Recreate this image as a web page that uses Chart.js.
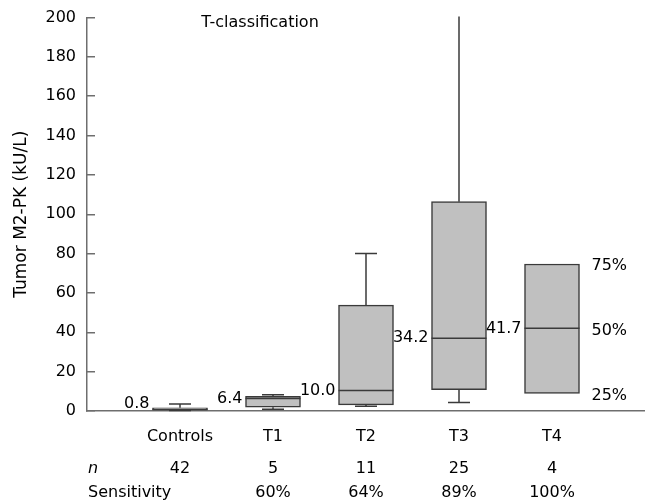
<!DOCTYPE html>
<html>
<head>
<meta charset="utf-8">
<script src="https://cdn.jsdelivr.net/npm/chart.js@4/dist/chart.umd.min.js"></script>
<style>
html,body{margin:0;padding:0;background:#fff;overflow:hidden;}
#wrap{width:645px;height:501px;position:relative;}
</style>
</head>
<body>
<div id="wrap"><canvas id="c"></canvas></div>
<script>
// ---- data ----
const categories = ['Controls', 'T1', 'T2', 'T3', 'T4'];
const q1 = [0.6, 1.9, 3.1, 10.9, 8.9];
const q3 = [1.6, 7.5, 53.8, 106.4, 74.7];
const medians = [0.8, 6.4, 10.4, 37.0, 42.0];
const medianLabels = ['0.8', '6.4', '10.0', '34.2', '41.7'];
const whiskerLow = [0.2, 0.9, 2.4, 4.3, null];
const whiskerHigh = [3.5, 8.3, 80, 210, null];
const nValues = ['42', '5', '11', '25', '4'];
const sensitivity = ['', '60%', '64%', '89%', '100%'];
const quartileLabels = ['75%', '50%', '25%'];
const yTickValues = [0, 20, 40, 60, 80, 100, 120, 140, 160, 180, 200];
const chartTitle = 'T-classification';
const yTitle = 'Tumor M2-PK (kU/L)';
const nLabel = 'n';
const sensLabel = 'Sensitivity';

// axis labels with empty slots on both ends
const axisLabels = [''].concat(categories, ['']);
const boxData = [null].concat(categories.map((c, i) => [q1[i], q3[i]]), [null]);

const FONT = 'DejaVu Sans';
const AXIS_COLOR = '#6e6e6e';
const LINE_COLOR = '#3a3a3a';

const boxPlugin = {
  id: 'boxExtras',
  beforeDatasetsDraw(chart) {
    const ctx = chart.ctx, xs = chart.scales.x, ys = chart.scales.y, ca = chart.chartArea;
    ctx.save();
    ctx.beginPath();
    ctx.rect(ca.left, ca.top - 1, ca.right - ca.left, ca.bottom - ca.top + 2);
    ctx.clip();
    ctx.strokeStyle = LINE_COLOR;
    ctx.lineWidth = 1.5;
    const capHalf = 11;
    categories.forEach((c, i) => {
      const x = xs.getPixelForValue(i + 1);
      if (whiskerHigh[i] != null) {
        const yq = ys.getPixelForValue(q3[i]), yh = ys.getPixelForValue(whiskerHigh[i]);
        ctx.beginPath(); ctx.moveTo(x, yq); ctx.lineTo(x, yh);
        ctx.moveTo(x - capHalf, yh); ctx.lineTo(x + capHalf, yh); ctx.stroke();
      }
      if (whiskerLow[i] != null) {
        const yq = ys.getPixelForValue(q1[i]), yl = ys.getPixelForValue(whiskerLow[i]);
        ctx.beginPath(); ctx.moveTo(x, yq); ctx.lineTo(x, yl);
        ctx.moveTo(x - capHalf, yl); ctx.lineTo(x + capHalf, yl); ctx.stroke();
      }
    });
    ctx.restore();
  },
  afterDatasetsDraw(chart) {
    const ctx = chart.ctx, xs = chart.scales.x, ys = chart.scales.y, ca = chart.chartArea;
    const meta = chart.getDatasetMeta(0);
    ctx.save();
    ctx.strokeStyle = LINE_COLOR;
    ctx.lineWidth = 1.5;
    ctx.font = '16px "' + FONT + '"';
    ctx.fillStyle = '#000';
    categories.forEach((c, i) => {
      const bar = meta.data[i + 1];
      const left = bar.x - bar.width / 2, right = bar.x + bar.width / 2;
      const ym = ys.getPixelForValue(medians[i]);
      ctx.beginPath(); ctx.moveTo(left, ym); ctx.lineTo(right, ym); ctx.stroke();
      ctx.textAlign = 'right';
      ctx.textBaseline = 'middle';
      const ty = Math.min(ym, ca.bottom - 7);
      ctx.fillText(medianLabels[i], left - 3, ty);
    });
    // quartile labels next to last box
    const last = categories.length - 1;
    const lb = meta.data[last + 1];
    const qx = lb.x + lb.width / 2 + 12;
    const qv = [q3[last], medians[last], q1[last]];
    ctx.textAlign = 'left';
    ctx.textBaseline = 'middle';
    quartileLabels.forEach((t, k) => ctx.fillText(t, qx, ys.getPixelForValue(qv[k]) + 2));
    // chart title
    ctx.textAlign = 'center';
    ctx.fillText(chartTitle, ca.left + 173, ca.top + 5);
    // bottom rows
    ctx.textBaseline = 'alphabetic';
    ctx.textAlign = 'center';
    categories.forEach((c, i) => {
      const x = xs.getPixelForValue(i + 1);
      ctx.fillText(nValues[i], x, ca.bottom + 62);
      ctx.fillText(sensitivity[i], x, ca.bottom + 85.5);
    });
    ctx.textAlign = 'left';
    ctx.fillText(sensLabel, ca.left + 1, ca.bottom + 85.5);
    ctx.font = 'italic 16px "' + FONT + '"';
    ctx.fillText(nLabel, ca.left + 1, ca.bottom + 62);
    ctx.restore();
  }
};

new Chart(document.getElementById('c'), {
  type: 'bar',
  data: {
    labels: axisLabels,
    datasets: [{
      data: boxData,
      backgroundColor: '#c0c0c0',
      borderColor: LINE_COLOR,
      borderWidth: 1.5,
      borderSkipped: false,
      barThickness: 55
    }]
  },
  options: {
    responsive: true,
    maintainAspectRatio: false,
    animation: false,
    devicePixelRatio: 1,
    layout: { padding: { top: 17.5, right: 0, bottom: 0, left: 0 } },
    plugins: { legend: { display: false }, tooltip: { enabled: false }, title: { display: false } },
    scales: {
      x: {
        type: 'category',
        offset: false,
        grid: { display: false, drawTicks: false },
        border: { display: true, color: AXIS_COLOR, width: 1.5 },
        ticks: { autoSkip: false, maxRotation: 0, color: '#000', padding: 16, font: { family: FONT, size: 16 } },
        afterFit: s => { s.height = 90; s.paddingLeft = 0; s.paddingRight = 0; s.paddingTop = 0; s.paddingBottom = 0; }
      },
      y: {
        min: 0,
        max: 200,
        afterBuildTicks: s => { s.ticks = yTickValues.map(v => ({ value: v })); },
        grid: { drawOnChartArea: false, drawTicks: true, tickLength: -8, color: AXIS_COLOR, lineWidth: 1.5 },
        border: { display: true, color: AXIS_COLOR, width: 1.5 },
        ticks: { color: '#000', padding: 19, font: { family: FONT, size: 16 } },
        title: { display: true, text: yTitle, color: '#000', font: { family: FONT, size: 17 }, padding: { top: 11.5, bottom: 0 } },
        afterFit: s => { s.width = 87; s.paddingTop = 0; s.paddingBottom = 0; s.paddingLeft = 0; s.paddingRight = 0; }
      }
    }
  },
  plugins: [boxPlugin]
});
</script>
</body>
</html>
